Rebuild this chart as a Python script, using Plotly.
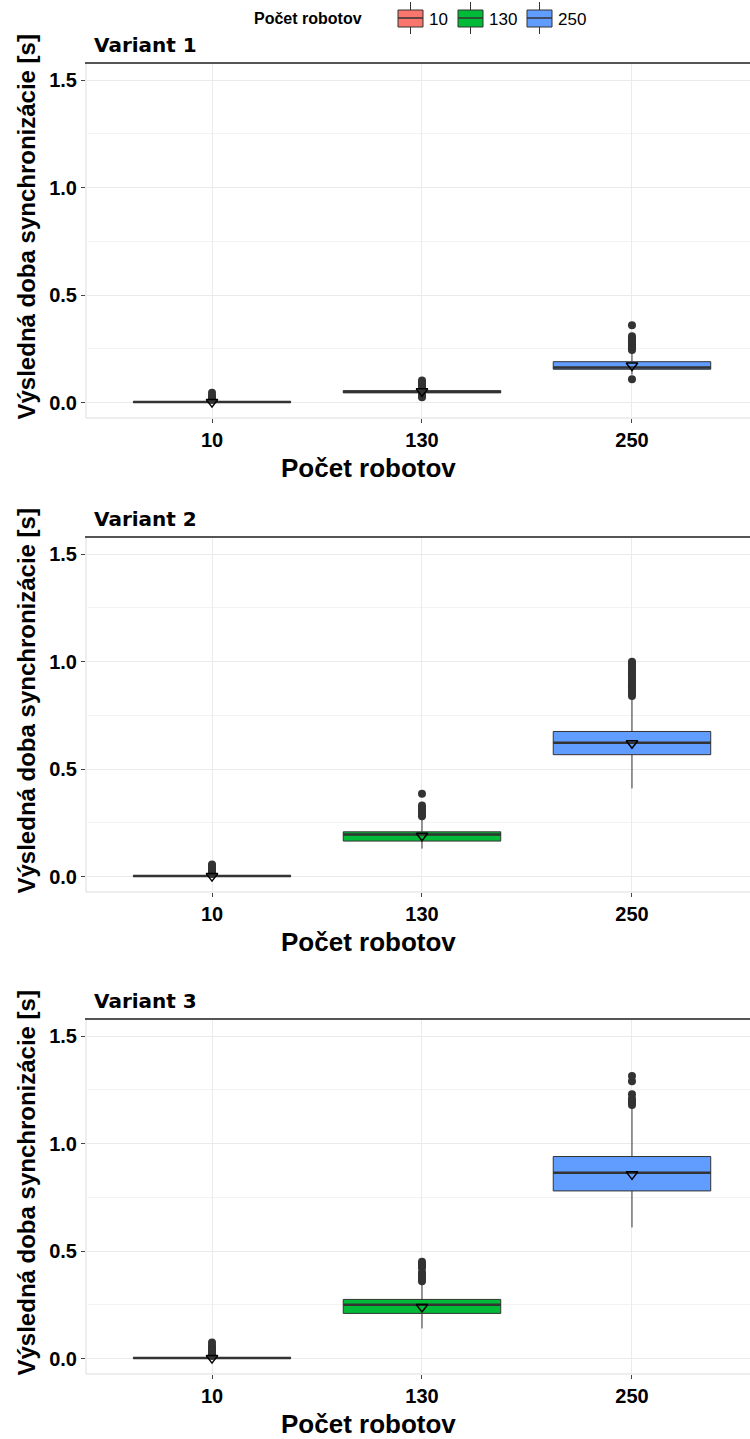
import plotly.graph_objects as go

# ---------------- data ----------------
categories = ["10", "130", "250"]
variants = ["Variant 1", "Variant 2", "Variant 3"]
colors = ["#F8766D", "#00BA38", "#619CFF"]
legend_title = "Počet robotov"
x_title = "Počet robotov"
y_title = "Výsledná doba synchronizácie [s]"
y_tickvals = [0, 0.5, 1.0, 1.5]
y_ticktext = ["0.0", "0.5", "1.0", "1.5"]

# per variant, per category: q1, median, q3, lower whisker, upper whisker, mean
q1 = [[0.001, 0.045, 0.155], [0.001, 0.165, 0.567], [0.001, 0.210, 0.780]]
med = [[0.002, 0.050, 0.163], [0.002, 0.195, 0.622], [0.002, 0.250, 0.865]]
q3 = [[0.004, 0.055, 0.190], [0.004, 0.208, 0.675], [0.004, 0.275, 0.940]]
lowf = [[0.000, 0.040, 0.130], [0.000, 0.130, 0.410], [0.000, 0.140, 0.610]]
upf = [[0.007, 0.062, 0.235], [0.008, 0.270, 0.830], [0.008, 0.355, 1.170]]
means = [[0.002, 0.052, 0.172], [0.002, 0.190, 0.620], [0.002, 0.240, 0.857]]

outliers = [
    [
        [0.012, 0.018, 0.024, 0.030, 0.045],
        [0.025, 0.030, 0.035, 0.066, 0.072, 0.078, 0.084, 0.090, 0.096, 0.102],
        [0.108, 0.245, 0.252, 0.259, 0.266, 0.273, 0.280, 0.287, 0.294, 0.301, 0.308, 0.360],
    ],
    [
        [0.012, 0.018, 0.024, 0.030, 0.036, 0.042, 0.050, 0.056],
        [0.280, 0.290, 0.300, 0.310, 0.320, 0.330, 0.385],
        [0.840, 0.850, 0.860, 0.870, 0.880, 0.890, 0.900, 0.910, 0.920, 0.930,
         0.940, 0.950, 0.960, 0.970, 0.980, 0.990, 1.000],
    ],
    [
        [0.012, 0.020, 0.028, 0.036, 0.044, 0.052, 0.060, 0.075],
        [0.360, 0.370, 0.380, 0.390, 0.400, 0.420, 0.430, 0.440, 0.450],
        [1.180, 1.190, 1.200, 1.210, 1.230, 1.290, 1.315],
    ],
]

xpos = [0, 1, 2]

# ---------------- layout geometry (px) ----------------
W, H = 750, 1439
left_px = 86
panels_px = [(63, 418), (537, 892), (1019, 1374)]
yrange = [-0.072, 1.58]
xrange_ = [-0.6, 2.562]
box_w = 0.75

# custom legend geometry (px)
leg_title_x = 252
leg_cy = 18
leg_box_x = [398, 458, 527]
leg_box_w = 25

fig = go.Figure()

def py(p):
    return 1 - p / H

def px(p):
    return p / W

for v in range(3):
    ax = "" if v == 0 else str(v + 1)
    xa, ya = "x" + ax, "y" + ax
    for c in range(3):
        fig.add_trace(go.Box(
            x=[xpos[c]], q1=[q1[v][c]], median=[med[v][c]], q3=[q3[v][c]],
            lowerfence=[lowf[v][c]], upperfence=[upf[v][c]],
            width=box_w, whiskerwidth=0, fillcolor=colors[c],
            line=dict(color="#333333", width=1), boxpoints=False,
            name=categories[c], showlegend=False,
            xaxis=xa, yaxis=ya, hoverinfo="skip",
        ))
        # thicker median line
        fig.add_trace(go.Scatter(
            x=[xpos[c] - box_w / 2, xpos[c] + box_w / 2], y=[med[v][c], med[v][c]],
            mode="lines", line=dict(color="#333333", width=2.5),
            showlegend=False, xaxis=xa, yaxis=ya, hoverinfo="skip",
        ))
        # outliers
        fig.add_trace(go.Scatter(
            x=[xpos[c]] * len(outliers[v][c]), y=outliers[v][c], mode="markers",
            marker=dict(color="#333333", size=8, symbol="circle"),
            showlegend=False, xaxis=xa, yaxis=ya, hoverinfo="skip",
        ))
        # mean
        fig.add_trace(go.Scatter(
            x=[xpos[c]], y=[means[v][c]], mode="markers",
            marker=dict(symbol="triangle-down-open", size=10, color="black",
                        line=dict(width=1.5, color="black")),
            showlegend=False, xaxis=xa, yaxis=ya, hoverinfo="skip",
        ))

    top, bot = panels_px[v]
    tick_font = dict(family="Liberation Sans, Arial", size=20, color="black", weight="bold")
    fig.update_layout(**{
        "xaxis" + ax: dict(
            domain=[px(left_px), 1], range=xrange_, anchor=ya,
            tickvals=xpos, ticktext=categories, tickfont=tick_font,
            ticks="outside", ticklen=4, tickcolor="#444444",
            showgrid=True, gridcolor="#EBEBEB", gridwidth=1, zeroline=False,
            showline=False,
        ),
        "yaxis" + ax: dict(
            domain=[py(bot), py(top)], range=yrange, anchor=xa,
            tickvals=y_tickvals, ticktext=y_ticktext,
            tickfont=tick_font, ticks="outside", ticklen=4, tickcolor="#444444",
            showgrid=True, gridcolor="#EBEBEB", gridwidth=1, zeroline=False,
            minor=dict(tickvals=[0.25, 0.75, 1.25], showgrid=True,
                       gridcolor="#F3F3F3", gridwidth=1, ticks=""),
            showline=False,
        ),
    })
    # panel border (light grey)
    fig.add_shape(type="rect", xref="paper", yref="paper",
                  x0=px(left_px), x1=1.0 + px(5), y0=py(bot), y1=py(top),
                  line=dict(color="#DDDDDD", width=1), layer="below")
    # black top line
    fig.add_shape(type="line", xref="paper", yref="paper",
                  x0=px(left_px - 1), x1=1.0, y0=py(top), y1=py(top),
                  line=dict(color="#222222", width=1.5))
    # panel title
    fig.add_annotation(text="<b>" + variants[v] + "</b>", xref="paper", yref="paper",
                       x=px(left_px + 6), y=py(top - 18), xanchor="left", yanchor="middle",
                       showarrow=False,
                       font=dict(family="DejaVu Sans", size=20, color="black"))
    # y axis title
    fig.add_annotation(text="<b>" + y_title + "</b>", xref="paper", yref="paper",
                       x=px(26), y=py((top + bot) / 2 - 13), textangle=-90,
                       xanchor="center", yanchor="middle", showarrow=False,
                       font=dict(family="Liberation Sans, Arial", size=24, color="black"))
    # x axis title
    fig.add_annotation(text="<b>" + x_title + "</b>", xref="paper", yref="paper",
                       x=px(368), y=py(bot + 50), xanchor="center", yanchor="middle",
                       showarrow=False,
                       font=dict(family="Liberation Sans, Arial", size=26, color="black"))

# ---------------- custom legend ----------------
fig.add_annotation(text="<b>" + legend_title + "</b>", xref="paper", yref="paper",
                   x=px(leg_title_x), y=py(leg_cy), xanchor="left", yanchor="middle",
                   showarrow=False,
                   font=dict(family="Liberation Sans, Arial", size=16, color="black"))
for c in range(3):
    bx = leg_box_x[c]
    cx = bx + leg_box_w / 2
    fig.add_shape(type="line", xref="paper", yref="paper",
                  x0=px(cx), x1=px(cx), y0=py(leg_cy - 16), y1=py(leg_cy + 16),
                  line=dict(color="#333333", width=1))
    fig.add_shape(type="rect", xref="paper", yref="paper",
                  x0=px(bx), x1=px(bx + leg_box_w), y0=py(leg_cy + 9), y1=py(leg_cy - 8),
                  fillcolor=colors[c], line=dict(color="#333333", width=1))
    fig.add_shape(type="line", xref="paper", yref="paper",
                  x0=px(bx), x1=px(bx + leg_box_w), y0=py(leg_cy), y1=py(leg_cy),
                  line=dict(color="#333333", width=1.5))
    fig.add_annotation(text=categories[c], xref="paper", yref="paper",
                       x=px(bx + leg_box_w + 4), y=py(leg_cy + 1), xanchor="left", yanchor="middle",
                       showarrow=False,
                       font=dict(family="Liberation Sans, Arial", size=17, color="black"))

fig.update_layout(
    width=W, height=H, margin=dict(l=0, r=0, t=0, b=0),
    paper_bgcolor="white", plot_bgcolor="white",
    showlegend=False,
)

fig.write_html("out.html")
